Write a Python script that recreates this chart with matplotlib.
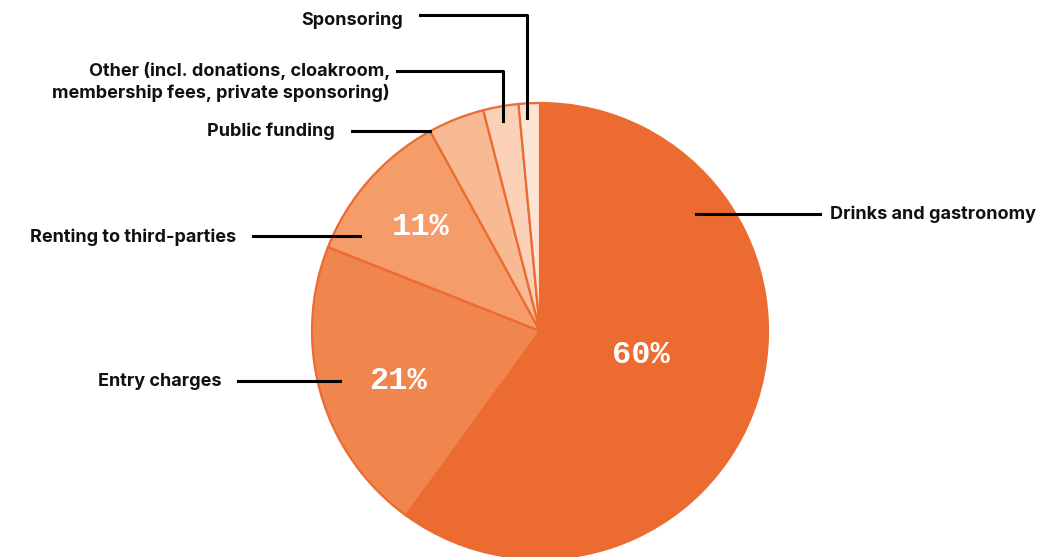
import matplotlib.pyplot as plt

# revenue shares (%), clockwise from the top
categories = ['Drinks and gastronomy', 'Entry charges', 'Renting to third-parties',
              'Public funding', 'Other (incl. donations, cloakroom,\nmembership fees, private sponsoring)',
              'Sponsoring']
shares = [60, 21, 11, 4, 2.5, 1.5]
pct_labels = ['60%', '21%', '11%', '', '', '']
colors = ['#EC6B30', '#F0854D', '#F49C6A', '#F7BA93', '#FBD1B8', '#FDE3D4']

W, H = 1058, 557
fig = plt.figure(figsize=(W / 100, H / 100), dpi=100)
ax = fig.add_axes([0, 0, 1, 1])

cx, cy, r = 540, H - 331, 228
wedges, _ = ax.pie(shares, colors=colors, startangle=90, counterclock=False,
                   center=(cx, cy), radius=r, frame=True,
                   wedgeprops=dict(edgecolor='#EC6B30', linewidth=1.6))
ax.set_xlim(0, W)
ax.set_ylim(0, H)
ax.set_aspect('equal')
ax.axis('off')

# percentage labels inside the big slices
pct_pos = [(641, 355), (398, 381), (421, 227)]
for (x, y), txt in zip(pct_pos, pct_labels):
    ax.text(x, H - y, txt, color='white', fontsize=23, fontweight='bold',
            family=['Liberation Mono', 'DejaVu Sans Mono'], ha='center', va='center')

lab = dict(fontsize=13, fontweight='bold', family=['Inter', 'DejaVu Sans'], color='#111111')
lw = 2.2

# callout lines (pixel layout) and labels
ax.plot([696, 820], [H - 214, H - 214], color='black', lw=lw)
ax.text(830, H - 214, categories[0], ha='left', va='center', **lab)

ax.plot([238, 340], [H - 381, H - 381], color='black', lw=lw)
ax.text(221, H - 381, categories[1], ha='right', va='center', **lab)

ax.plot([253, 360], [H - 236, H - 236], color='black', lw=lw)
ax.text(236, H - 237, categories[2], ha='right', va='center', **lab)

ax.plot([352, 430], [H - 131, H - 131], color='black', lw=lw)
ax.text(335, H - 131, categories[3], ha='right', va='center', **lab)

ax.plot([397, 503, 503], [H - 71, H - 71, H - 121], color='black', lw=lw)
ax.text(390, H - 82, categories[4], ha='right', va='center', linespacing=1.3, **lab)

ax.plot([420, 527, 527], [H - 15, H - 15, H - 118], color='black', lw=lw)
ax.text(403, H - 20, categories[5], ha='right', va='center', **lab)

fig.savefig('out.png', dpi=100)
